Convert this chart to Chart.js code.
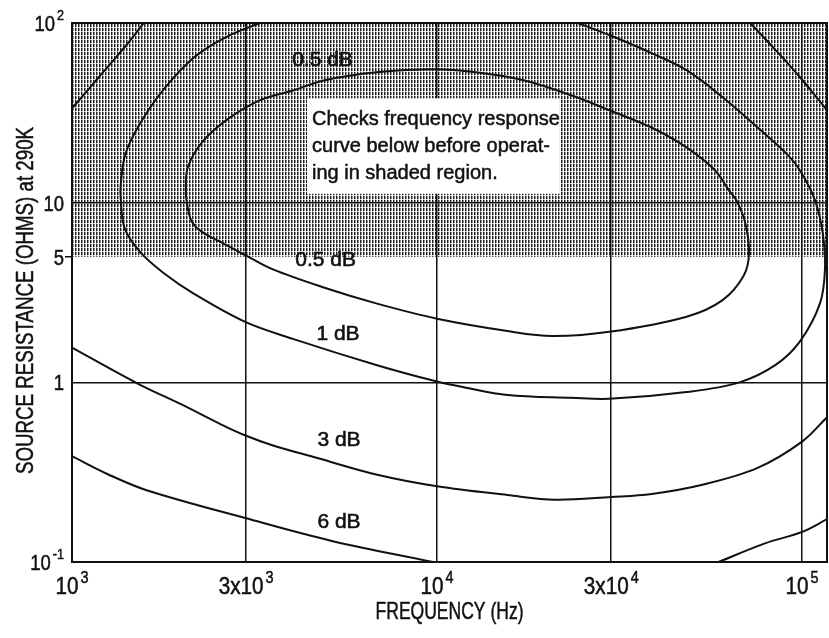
<!DOCTYPE html>
<html>
<head>
<meta charset="utf-8">
<script src="https://cdn.jsdelivr.net/npm/chart.js@4"></script>
<style>
  html, body { margin: 0; padding: 0; background: #fff; }
</style>
</head>
<body>
<canvas id="chart" width="829" height="638"></canvas>
<script>
// Axis ticks
const X_TICKS = [1e3, 3e3, 1e4, 3e4, 1e5];
const X_TICK_BASE = ['10', '3x10', '10', '3x10', '10'];
const X_TICK_EXP = ['3', '3', '4', '4', '5'];
const Y_TICKS = [0.1, 1, 5, 10, 100];
const Y_TICK_BASE = ['10', '1', '5', '10', '10'];
const Y_TICK_EXP = ['-1', '', '', '', '2'];
const X_TITLE = 'FREQUENCY (Hz)';
const Y_TITLE = 'SOURCE RESISTANCE (OHMS) at 290K';

// Noise figure contours: frequency (Hz) vs source resistance (ohms)
const DB05_FREQ = [4047, 4919, 6811, 9870, 12794, 17268, 23309, 29638, 38677, 48250, 57780, 63030, 66050, 69680, 71570, 69210, 60550, 48250, 29638, 20677, 15595, 10000, 6811, 4919, 3553, 2982, 2642, 2259, 2126, 2063, 2050, 2075, 2259, 2642, 3265, 4047];
const DB05_RES = [42.2, 48.0, 53.2, 55.3, 53.2, 48.0, 39.6, 32.7, 26.2, 20.3, 15.1, 11.7, 10.3, 7.89, 5.32, 3.93, 2.87, 2.32, 1.91, 1.81, 1.93, 2.26, 2.75, 3.36, 4.25, 5.11, 5.83, 6.92, 7.89, 10, 12.1, 15.7, 21.4, 28.7, 37.1, 42.2];

const DB1_FREQ = [3265, 2642, 2165, 1774, 1536, 1402, 1361, 1361, 1394, 1536, 1774, 2165, 2982, 4047, 6811, 10000, 11833, 15595, 23309, 29638, 48250, 67390, 84600, 98670, 111940, 115510, 114060, 108490, 98670, 90450, 75510, 60550, 48250, 38677, 29638, 24307];
const DB1_RES = [100, 83.5, 64.6, 42.2, 27.6, 18.8, 12.8, 10.3, 7.2, 5.32, 4.09, 3.10, 2.17, 1.74, 1.25, 1.01, 0.94, 0.851, 0.82, 0.809, 0.883, 1.0, 1.25, 1.69, 2.75, 4.25, 6.65, 10.3, 15.1, 18.8, 26.2, 38.6, 54.6, 68.0, 85.7, 100];

const DB3_FREQ = [1000, 1508, 2001, 2549, 3000, 3553, 4700, 6811, 10000, 15595, 21050, 30000, 38677, 54050, 75510, 100000, 117000];
const DB3_RES = [1.56, 0.988, 0.751, 0.586, 0.504, 0.445, 0.379, 0.307, 0.264, 0.236, 0.222, 0.230, 0.239, 0.271, 0.334, 0.468, 0.639];

const DB6_LEFT_FREQ = [1000, 1258, 1601, 3000, 5148, 9743];
const DB6_LEFT_RES = [0.388, 0.307, 0.251, 0.175, 0.131, 0.1];
const DB6_RIGHT_FREQ = [59000, 79130, 100000, 117000];
const DB6_RIGHT_RES = [0.1, 0.127, 0.147, 0.173];

// Outer contour pieces clipped by the top corners
const CORNER_LEFT_FREQ = [1000, 1184, 1394, 1573];
const CORNER_LEFT_RES = [33.5, 49.9, 73.4, 100];
const CORNER_RIGHT_FREQ = [72050, 84600, 98670, 117000];
const CORNER_RIGHT_RES = [100, 70.7, 49.9, 32.7];

// Curve labels (anchored in data units)
const CURVE_LABELS = ['0.5 dB', '0.5 dB', '1 dB', '3 dB', '6 dB'];
const LABEL_FREQ = [4855, 4950, 5354, 5387, 5387];
const LABEL_RES = [62.1, 4.79, 1.86, 0.474, 0.1666];

// Shaded region and note
const SHADE_RES = [5, 100];
const NOTE_FREQ = [4403, 21690];
const NOTE_RES = [11.2, 38.1];
const NOTE_LINES = ['Checks frequency response', 'curve below before operat-', 'ing in shaded region.'];

const FONT_REG = "'Liberation Sans', Arial, sans-serif";
const INK = '#111';

function toPoints(freq, res) {
    return freq.map((f, i) => ({ x: f, y: res[i] }));
}

function curve(freq, res) {
    return {
        data: toPoints(freq, res),
        showLine: true,
        borderColor: INK,
        borderWidth: 2,
        pointRadius: 0,
        tension: 0.35,
        fill: false
    };
}

// Slightly heavier text, like the print
function inkText(ctx, text, x, y) {
    ctx.fillText(text, x, y);
    ctx.strokeText(text, x, y);
}

// Horizontally squeezed text, to mimic the condensed face of the print
function fillNarrow(ctx, text, x, y, sx) {
    ctx.save();
    ctx.translate(x, y);
    ctx.scale(sx, 1);
    inkText(ctx, text, 0, 0);
    ctx.restore();
}

// Vertical dotted hatching like the original print
function makeShadePattern(ctx) {
    const tile = document.createElement('canvas');
    tile.width = 3;
    tile.height = 4;
    const t = tile.getContext('2d');
    t.fillStyle = '#fff';
    t.fillRect(0, 0, 3, 4);
    t.fillStyle = '#1e1e1e';
    t.fillRect(0, 0, 1, 3);
    t.fillStyle = '#8c8c8c';
    t.fillRect(1, 0, 1, 3);
    t.fillStyle = '#bbbbbb';
    t.fillRect(0, 3, 1, 1);
    return ctx.createPattern(tile, 'repeat');
}

const shadePlugin = {
    id: 'shade',
    beforeDraw(chart) {
        const { ctx, chartArea, scales: { y } } = chart;
        const top = y.getPixelForValue(SHADE_RES[1]);
        const bottom = y.getPixelForValue(SHADE_RES[0]);
        ctx.save();
        ctx.fillStyle = makeShadePattern(ctx);
        ctx.fillRect(chartArea.left, top, chartArea.right - chartArea.left, bottom - top);
        ctx.restore();
    }
};

const notePlugin = {
    id: 'note',
    beforeDatasetsDraw(chart) {
        const { ctx, scales: { x, y } } = chart;
        const left = x.getPixelForValue(NOTE_FREQ[0]);
        const right = x.getPixelForValue(NOTE_FREQ[1]);
        const top = y.getPixelForValue(NOTE_RES[1]);
        const bottom = y.getPixelForValue(NOTE_RES[0]);
        ctx.save();
        ctx.fillStyle = '#fff';
        ctx.fillRect(left, top, right - left, bottom - top);
        ctx.fillStyle = INK;
        ctx.strokeStyle = INK;
        ctx.lineWidth = 0.5;
        ctx.font = `20px ${FONT_REG}`;
        ctx.textBaseline = 'alphabetic';
        NOTE_LINES.forEach((line, i) => {
            inkText(ctx, line, left + 5, top + 27 + i * 27);
        });
        ctx.restore();
    }
};

const labelPlugin = {
    id: 'curveLabels',
    afterDatasetsDraw(chart) {
        const { ctx, scales: { x, y } } = chart;
        ctx.save();
        ctx.fillStyle = INK;
        ctx.strokeStyle = INK;
        ctx.lineWidth = 0.6;
        ctx.font = `21px ${FONT_REG}`;
        ctx.textAlign = 'center';
        ctx.textBaseline = 'middle';
        CURVE_LABELS.forEach((text, i) => {
            inkText(ctx, text, x.getPixelForValue(LABEL_FREQ[i]), y.getPixelForValue(LABEL_RES[i]));
        });
        ctx.restore();
    }
};

// Tick labels with real superscripts
function drawPower(ctx, base, exp, x, y, align, size, sx) {
    const expSize = Math.round(size * 0.7);
    ctx.font = `${size}px ${FONT_REG}`;
    const wb = ctx.measureText(base).width * sx;
    ctx.font = `${expSize}px ${FONT_REG}`;
    const we = exp ? ctx.measureText(exp).width * sx + 2 : 0;
    const start = align === 'center' ? x - (wb + we) / 2 : x - (wb + we);
    ctx.font = `${size}px ${FONT_REG}`;
    fillNarrow(ctx, base, start, y, sx);
    if (exp) {
        ctx.font = `${expSize}px ${FONT_REG}`;
        fillNarrow(ctx, exp, start + wb + 2, y - size * 0.5, sx);
    }
}

const axisTextPlugin = {
    id: 'axisText',
    afterDraw(chart) {
        const { ctx, chartArea, scales: { x, y } } = chart;
        ctx.save();
        ctx.fillStyle = INK;
        ctx.strokeStyle = INK;
        ctx.lineWidth = 0.5;
        ctx.textAlign = 'left';
        ctx.textBaseline = 'alphabetic';
        X_TICKS.forEach((v, i) => {
            drawPower(ctx, X_TICK_BASE[i], X_TICK_EXP[i], x.getPixelForValue(v), chartArea.bottom + 32, 'center', 23, 0.9);
        });
        Y_TICKS.forEach((v, i) => {
            drawPower(ctx, Y_TICK_BASE[i], Y_TICK_EXP[i], chartArea.left - 8, y.getPixelForValue(v) + 8, 'right', 22, 0.84);
        });

        // axis titles
        ctx.textAlign = 'center';
        ctx.textBaseline = 'middle';
        ctx.font = `24px ${FONT_REG}`;
        fillNarrow(ctx, X_TITLE, (chartArea.left + chartArea.right) / 2, 612, 0.73);
        ctx.save();
        ctx.translate(26, (chartArea.top + chartArea.bottom) / 2 + 8);
        ctx.rotate(-Math.PI / 2);
        fillNarrow(ctx, Y_TITLE, 0, 0, 0.78);
        ctx.restore();

        // frame
        ctx.lineWidth = 2;
        ctx.strokeRect(chartArea.left, chartArea.top, chartArea.right - chartArea.left, chartArea.bottom - chartArea.top);
        ctx.restore();
    }
};

function innerGrid(ticks) {
    return c => (ticks.includes(c.tick.value) ? INK : 'rgba(0,0,0,0)');
}

const ctx = document.getElementById('chart').getContext('2d');
new Chart(ctx, {
    type: 'scatter',
    data: {
        datasets: [
            curve(DB05_FREQ, DB05_RES),
            curve(DB1_FREQ, DB1_RES),
            curve(DB3_FREQ, DB3_RES),
            curve(DB6_LEFT_FREQ, DB6_LEFT_RES),
            curve(DB6_RIGHT_FREQ, DB6_RIGHT_RES),
            curve(CORNER_LEFT_FREQ, CORNER_LEFT_RES),
            curve(CORNER_RIGHT_FREQ, CORNER_RIGHT_RES)
        ]
    },
    options: {
        responsive: false,
        animation: false,
        layout: { padding: { top: 23, right: 2, left: 0, bottom: 0 } },
        plugins: {
            legend: { display: false },
            tooltip: { enabled: false }
        },
        scales: {
            x: {
                type: 'logarithmic',
                min: 1000,
                max: 117000,
                afterBuildTicks: s => { s.ticks = X_TICKS.map(v => ({ value: v })); },
                afterFit: s => { s.height = 76; },
                ticks: { display: false },
                grid: { color: innerGrid([3e3, 1e4, 3e4, 1e5]), lineWidth: 1.5, drawTicks: false },
                border: { color: INK, width: 2 }
            },
            y: {
                type: 'logarithmic',
                min: 0.1,
                max: 100,
                afterBuildTicks: s => { s.ticks = Y_TICKS.map(v => ({ value: v })); },
                afterFit: s => { s.width = 72; },
                ticks: { display: false },
                grid: {
                    color: innerGrid([1, 10]),
                    tickColor: c => (c.tick.value === 5 ? INK : 'rgba(0,0,0,0)'),
                    lineWidth: 1.5,
                    drawTicks: true,
                    tickLength: 7
                },
                border: { color: INK, width: 2 }
            }
        }
    },
    plugins: [shadePlugin, notePlugin, labelPlugin, axisTextPlugin]
});
</script>
</body>
</html>
